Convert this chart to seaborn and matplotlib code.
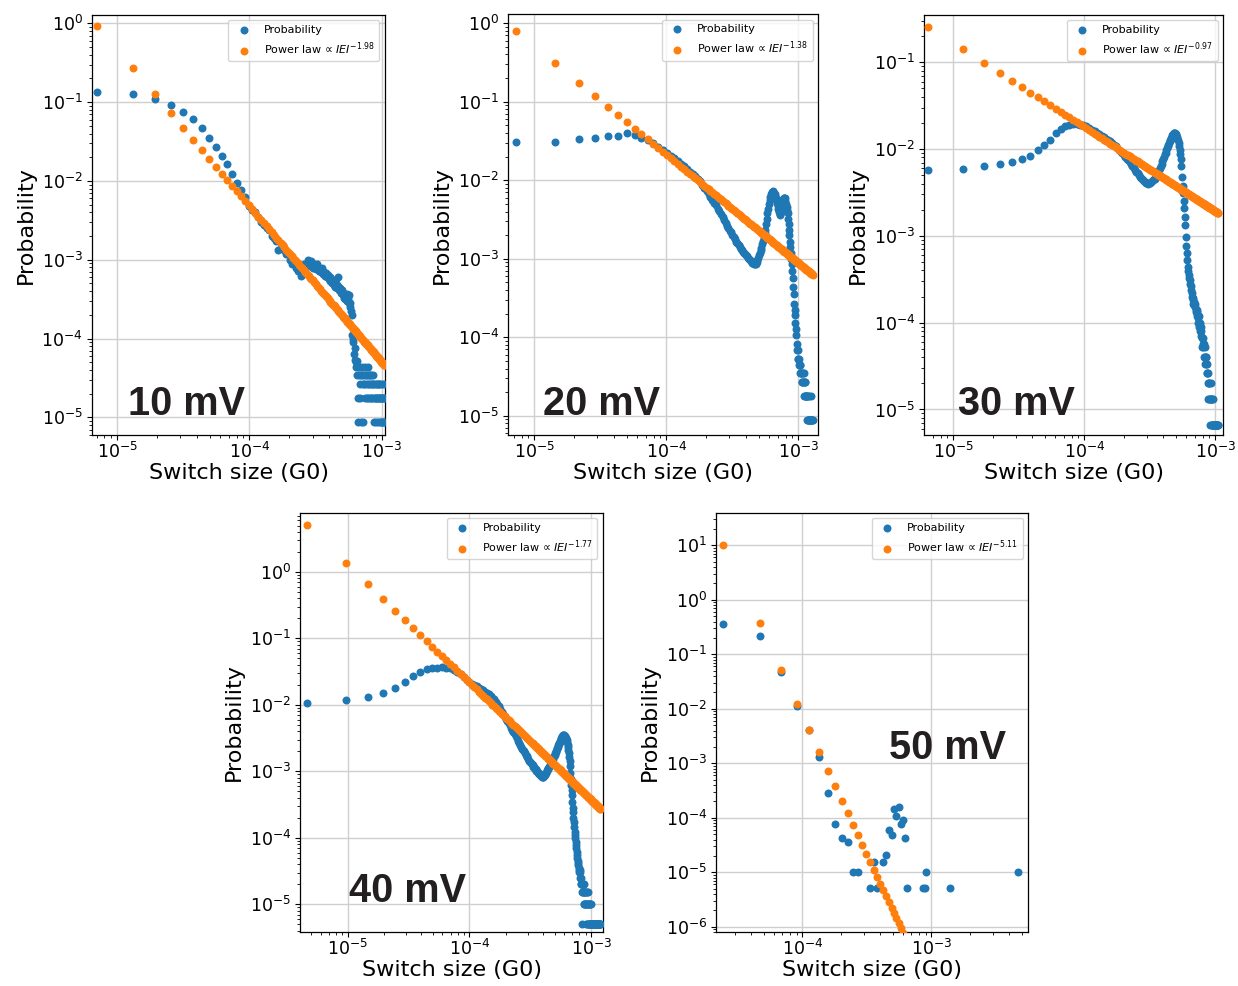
import numpy as np
import matplotlib
matplotlib.use("Agg")
import matplotlib.pyplot as plt
from matplotlib.ticker import LogLocator, NullFormatter, FixedLocator
import seaborn as sns

# ---------------------------------------------------------------- data
voltages = ["10 mV", "20 mV", "30 mV", "40 mV", "50 mV"]

# Linear histogram bins in switch size (G0): centre of first bin, bin width, count
bin_first = [7.0e-6, 7.2e-6, 6.44e-6, 4.6e-6, 2.44e-5]
bin_width = [6.1e-6, 7.2e-6, 5.4e-6, 5.0e-6, 2.22e-5]
bin_count = [172, 178, 194, 238, 213]

# Power-law fits: exponent and fitted value at the first bin
fit_exponent = [1.98, 1.38, 0.97, 1.77, 5.11]
fit_first = [0.93, 0.80, 0.256, 5.07, 10.2]

# log10 of the measured probability per bin (None = empty bin)
logp_10mV = [
    -0.87, -0.90, -0.96, -1.03, -1.12, -1.21, -1.33, -1.45, -1.57, -1.68,
    -1.79, -1.91, -2.03, -2.11, -2.20, -2.32, -2.37, -2.40, -2.46, -2.52,
    -2.56, -2.60, -2.62, -2.70, -2.72, -2.76, -2.88, -2.85, -2.86, -2.88,
    -2.93, -2.92, -3.00, -3.05, -3.03, -3.02, -3.10, -3.14, -3.08, -3.20,
    -3.12, -3.06, -3.08, -3.05, -3.00, -3.05, -3.08, -3.02, -3.10, -3.06,
    -3.08, -3.12, -3.05, -3.10, -3.14, -3.12, -3.16, -3.10, -3.18, -3.15,
    -3.20, -3.17, -3.22, -3.19, -3.25, -3.22, -3.27, -3.24, -3.30, -3.26,
    -3.32, -3.28, -3.35, -3.30, -3.36, -3.33, -3.22, -3.38, -3.36, -3.40,
    -3.42, -3.38, -3.45, -3.42, -3.48, -3.44, -3.50, -3.46, -3.52, -3.44,
    -3.50, -3.45, -3.55, -3.60, -3.55, -3.65, -3.70, -3.95, -4.00, -4.05,
    -4.20, -4.12, -4.27, -4.30, -4.36, -4.46, -4.28, -4.76, -5.06, -4.46,
    -4.36, -4.58, -4.76, -4.46, -5.06, -4.46, -4.36, -4.58, -5.06, -4.46,
    -4.58, -4.36, -4.76, -4.46, -4.58, -4.76, -4.46, -4.58, -4.36, -4.76,
    -4.46, -4.58, -4.76, -4.46, -4.58, -4.76, -4.46, -4.58, -4.76, -4.46,
    -4.58, -4.76, -5.06, -4.58, -4.76, None, -4.58, -4.76, -5.06, -4.58,
    -4.76, -4.76, -4.58, -5.06, -4.76, -4.58, -4.76, -5.06, -4.76, -4.58,
    -4.76, -5.06, -4.76, -4.58, -5.06, -4.76, -4.76, -5.06, -4.58, -4.76,
    -5.06, -4.76,
]

logp_20mV = [
    -1.51, -1.51, -1.48, -1.46, -1.43, -1.43, -1.40, -1.42, -1.46, -1.49,
    -1.53, -1.57, -1.61, -1.65, -1.69, -1.72, -1.76, -1.79, -1.82, -1.86,
    -1.89, -1.92, -1.95, -1.98, -2.01, -2.06, -2.10, -2.14, -2.18, -2.21,
    -2.25, -2.29, -2.32, -2.36, -2.39, -2.43, -2.47, -2.51, -2.55, -2.58,
    -2.61, -2.64, -2.66, -2.70, -2.72, -2.75, -2.78, -2.80, -2.83, -2.85,
    -2.87, -2.89, -2.91, -2.93, -2.94, -2.95, -2.97, -2.99, -3.00, -3.02,
    -3.03, -3.05, -3.05, -3.06, -3.07, -3.06, -3.04, -3.02, -2.99, -2.95,
    -2.92, -2.89, -2.86, -2.81, -2.77, -2.72, -2.67, -2.63, -2.56, -2.49,
    -2.42, -2.36, -2.30, -2.25, -2.21, -2.18, -2.16, -2.15, -2.14, -2.15,
    -2.16, -2.18, -2.20, -2.22, -2.25, -2.29, -2.33, -2.37, -2.40, -2.43,
    -2.44, -2.40, -2.34, -2.29, -2.26, -2.25, -2.24, -2.23, -2.22, -2.23,
    -2.26, -2.30, -2.34, -2.38, -2.42, -2.49, -2.56, -2.63, -2.70, -2.78,
    -2.85, -2.93, -3.00, -3.06, -3.15, -3.25, -3.36, -3.45, -3.57, -3.65,
    -3.72, -3.82, -3.90, -3.97, -4.08, -4.16, -4.16, -4.27, -4.27, -4.35,
    -4.27, -4.35, -4.45, -4.35, -4.45, -4.45, -4.57, -4.45, -4.57, -4.45,
    -4.57, -4.45, -4.57, -4.75, -4.57, -4.57, -4.75, -4.75, -4.75, -4.75,
    -4.75, -5.05, -4.75, -5.05, -5.05, -4.75, -5.05, -5.05, None, -5.05,
    -5.05, -5.05, -4.75, -5.05, -5.05, None, -5.05, -5.05,
]

logp_30mV = [
    -2.24, -2.23, -2.20, -2.17, -2.15, -2.11, -2.08, -2.01, -1.95, -1.90,
    -1.81, -1.77, -1.74, -1.72, -1.71, -1.71, -1.72, -1.72, -1.74, -1.76,
    -1.78, -1.79, -1.81, -1.83, -1.85, -1.86, -1.88, -1.89, -1.91, -1.93,
    -1.95, -1.97, -1.99, -2.01, -2.03, -2.05, -2.07, -2.09, -2.11, -2.13,
    -2.15, -2.17, -2.20, -2.22, -2.24, -2.26, -2.28, -2.30, -2.32, -2.33,
    -2.35, -2.36, -2.37, -2.38, -2.39, -2.39, -2.40, -2.39, -2.39, -2.38,
    -2.37, -2.36, -2.35, -2.34, -2.32, -2.30, -2.28, -2.26, -2.24, -2.22,
    -2.19, -2.17, -2.14, -2.11, -2.09, -2.06, -2.04, -2.01, -1.99, -1.97,
    -1.95, -1.93, -1.91, -1.89, -1.87, -1.86, -1.84, -1.83, -1.82, -1.82,
    -1.82, -1.83, -1.84, -1.86, -1.88, -1.90, -1.93, -1.97, -2.01, -2.06,
    -2.12, -2.20, -2.32, -2.42, -2.51, -2.60, -2.68, -2.78, -2.88, -3.01,
    -3.12, -3.20, -3.28, -3.36, -3.40, -3.45, -3.48, -3.51, -3.55, -3.58,
    -3.62, -3.66, -3.70, -3.74, -3.72, -3.78, -3.76, -3.80, -3.82, -3.78,
    -3.85, -3.88, -3.85, -3.92, -3.88, -3.95, -4.00, -3.92, -4.00, -4.05,
    -4.00, -4.10, -4.05, -4.15, -4.10, -4.18, -4.28, -4.18, -4.24, -4.28,
    -4.24, -4.40, -4.28, -4.40, -4.48, -4.40, -4.48, -4.40, -4.58, -4.48,
    -4.58, -4.70, -4.58, -4.88, -4.70, -4.88, -4.70, -4.88, -5.18, -4.88,
    -4.70, -4.88, -5.18, -4.88, -5.18, -5.18, -4.88, -5.18, -5.18, -5.18,
    None, -5.18, -5.18, -5.18, -5.18, None, -5.18, -5.18, -5.18, -5.18,
    -5.18, -5.18, -5.18, -5.18,
]

logp_40mV = [
    -1.97, -1.93, -1.88, -1.82, -1.74, -1.66, -1.57, -1.51, -1.46, -1.45,
    -1.44, -1.43, -1.44, -1.45, -1.47, -1.50, -1.54, -1.58, -1.62, -1.66,
    -1.68, -1.70, -1.72, -1.74, -1.76, -1.78, -1.80, -1.82, -1.84, -1.86,
    -1.89, -1.91, -1.95, -1.99, -2.02, -2.06, -2.10, -2.14, -2.18, -2.21,
    -2.25, -2.28, -2.31, -2.35, -2.38, -2.41, -2.44, -2.47, -2.50, -2.54,
    -2.57, -2.61, -2.63, -2.66, -2.68, -2.70, -2.72, -2.75, -2.77, -2.79,
    -2.82, -2.84, -2.86, -2.88, -2.89, -2.91, -2.93, -2.94, -2.96, -2.97,
    -2.99, -3.00, -3.02, -3.03, -3.04, -3.05, -3.06, -3.07, -3.08, -3.09,
    -3.08, -3.07, -3.05, -3.04, -3.02, -3.00, -2.98, -2.96, -2.95, -2.93,
    -2.91, -2.90, -2.88, -2.86, -2.84, -2.82, -2.81, -2.79, -2.77, -2.75,
    -2.73, -2.71, -2.69, -2.67, -2.65, -2.63, -2.61, -2.59, -2.58, -2.56,
    -2.54, -2.53, -2.51, -2.50, -2.48, -2.47, -2.46, -2.46, -2.46, -2.47,
    -2.47, -2.48, -2.49, -2.50, -2.51, -2.53, -2.56, -2.60, -2.64, -2.68,
    -2.73, -2.78, -2.84, -2.92, -3.02, -3.11, -3.21, -3.28, -3.36, -3.46,
    -3.55, -3.61, -3.70, -3.76, -3.84, -3.91, -3.96, -4.01, -4.06, -4.11,
    -4.16, -4.21, -4.26, -4.30, -4.35, -4.41, -4.38, -4.45, -4.49, -4.52,
    -4.49, -4.52, -4.60, -4.70, -4.60, -4.70, -5.30, -4.70, -4.82, -4.70,
    -4.82, -4.82, -4.70, -5.00, -4.82, -5.00, -4.82, -5.00, -4.82, -5.30,
    -5.00, -4.82, -5.00, -5.30, -4.82, -5.00, -5.30, -5.00, -4.82, -5.00,
    -5.30, -5.00, -5.30, -5.00, -5.30, -5.30, -5.00, -5.30, -5.30, -5.30,
    -5.00, -5.30, -5.30, None, -5.30, -5.30, -5.30, -5.30, None, -5.30,
    -5.30, -5.30, -5.30, -5.30, -5.30, None, -5.30, -5.30, -5.30, -5.30,
    -5.30, -5.30, -5.30, -5.30, -5.30, -5.30, None, -5.30, -5.30, -5.30,
    -5.30, -5.30, -5.30, -5.30, -5.30, -5.30, -5.30, -5.30,
]

# 50 mV is sparse: occupied bin numbers (1-based) and their log10 probability
bins_50mV = [1, 2, 3, 4, 5, 6, 7, 8, 9, 10, 11, 12, 15, 16, 17, 19, 20, 21,
             22, 23, 24, 25, 26, 27, 28, 29, 39, 40, 41, 63, 213]
logp_50mV = [-0.444, -0.658, -1.32, -1.94, -2.395, -2.88, -3.55, -4.11,
             -4.375, -4.435, -4.99, -4.99, -5.29, -4.81, -5.29, -4.81, -4.69,
             -4.23, -4.32, -3.845, -3.96, -3.80, -4.11, -4.04, -4.375, -5.29,
             -5.29, -5.29, -4.99, -5.29, -4.99]

# ---------------------------------------------------------------- layout
BLUE = "#1f77b4"
ORANGE = "#ff7f0e"

axes_rects = [
    [0.0743, 0.5588, 0.2367, 0.4263],
    [0.4106, 0.5588, 0.2504, 0.4267],
    [0.7466, 0.5588, 0.2415, 0.4263],
    [0.2426, 0.0550, 0.2443, 0.4250],
    [0.5784, 0.0545, 0.2523, 0.4255],
]
x_limits = [(6.44e-6, 1.059e-3), (6.35e-6, 1.417e-3), (6.01e-6, 1.15e-3),
            (4.08e-6, 1.245e-3), (2.14e-5, 5.65e-3)]
y_limits = [(5.96e-6, 1.29), (5.7e-6, 1.30), (5.08e-6, 0.353),
            (3.85e-6, 7.8), (7.96e-7, 39.7)]
tag_xy = [(0.123, 0.048), (0.111, 0.048), (0.114, 0.048),
          (0.162, 0.071), (0.555, 0.412)]

sns.set_theme(style="ticks")
plt.rcParams.update({
    "font.family": ["DejaVu Sans"],
    "axes.edgecolor": "black",
    "axes.linewidth": 0.9,
    "axes.facecolor": "white",
    "figure.facecolor": "white",
    "xtick.color": "black",
    "ytick.color": "black",
    "text.color": "black",
    "axes.labelcolor": "black",
    "xtick.major.size": 3.5,
    "ytick.major.size": 3.5,
    "xtick.minor.size": 2.0,
    "ytick.minor.size": 2.0,
    "xtick.major.width": 0.8,
    "ytick.major.width": 0.8,
    "xtick.minor.width": 0.6,
    "ytick.minor.width": 0.6,
    "xtick.major.pad": 1.5,
    "ytick.major.pad": 3.0,
    "mathtext.fontset": "dejavusans",
})


def decades_within(lo, hi):
    """Powers of ten lying inside [lo, hi]."""
    return [10.0 ** k for k in range(int(np.ceil(np.log10(lo))),
                                     int(np.floor(np.log10(hi))) + 1)]


fig = plt.figure(figsize=(12.38, 9.86), dpi=100)

measured = [logp_10mV, logp_20mV, logp_30mV, logp_40mV, None]

for i, volt in enumerate(voltages):
    ax = fig.add_axes(axes_rects[i])
    ax.set_xscale("log")
    ax.set_yscale("log")

    x = bin_first[i] + bin_width[i] * np.arange(bin_count[i])
    if measured[i] is not None:
        p = 10.0 ** np.array(measured[i], dtype=float)
        keep = np.isfinite(p)
        xb, pb = x[keep], p[keep]
    else:
        idx = np.array(bins_50mV) - 1
        xb, pb = x[idx], 10.0 ** np.array(logp_50mV)

    fit = fit_first[i] * (x / x[0]) ** (-fit_exponent[i])

    sns.scatterplot(x=xb, y=pb, ax=ax, color=BLUE, s=33, linewidth=0,
                    label="Probability", zorder=3)
    sns.scatterplot(x=x, y=fit, ax=ax, color=ORANGE, s=33, linewidth=0,
                    label="Power law \u221d $IEI^{-%.2f}$" % fit_exponent[i],
                    zorder=4)

    ax.set_xlim(*x_limits[i])
    ax.set_ylim(*y_limits[i])

    ax.xaxis.set_major_locator(FixedLocator(decades_within(*x_limits[i])))
    ax.yaxis.set_major_locator(FixedLocator(decades_within(*y_limits[i])))
    for axis in (ax.xaxis, ax.yaxis):
        axis.set_minor_locator(LogLocator(base=10, subs=np.arange(2, 10),
                                          numticks=300))
        axis.set_minor_formatter(NullFormatter())

    ax.grid(True, which="major", color="#cfcfcf", linewidth=1.0)
    ax.set_axisbelow(True)
    ax.tick_params(which="both", direction="out", labelsize=12.5)

    ax.set_xlabel("Switch size (G0)", fontsize=16, labelpad=0.5)
    ax.set_ylabel("Probability", fontsize=16)

    ax.legend(loc="upper right", fontsize=8, frameon=True, framealpha=0.8,
              edgecolor="0.8", fancybox=True, scatterpoints=1)

    ax.text(tag_xy[i][0], tag_xy[i][1], volt, transform=ax.transAxes,
            fontsize=28.5, fontweight="bold", family="Liberation Sans",
            color="#231f20", ha="left", va="baseline", zorder=6)

fig.savefig("out.png", dpi=100)
